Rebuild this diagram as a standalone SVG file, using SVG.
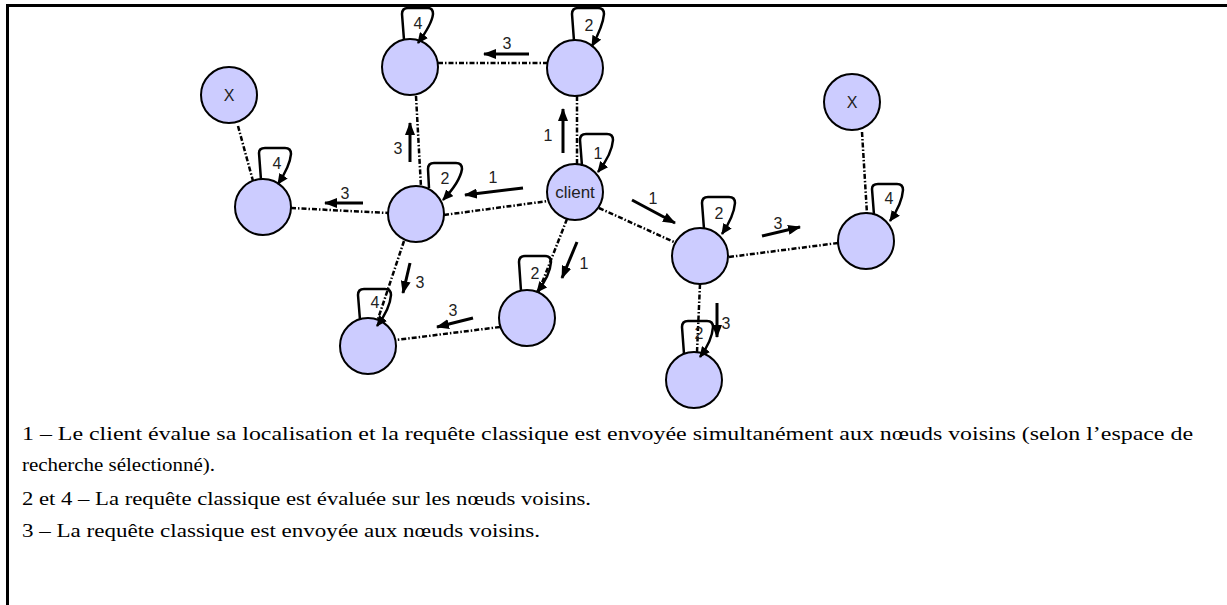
<svg xmlns="http://www.w3.org/2000/svg" width="1227" height="605" viewBox="0 0 1227 605">
<style>
.n{fill:#ccccff;stroke:#000;stroke-width:2}
.lp{fill:none;stroke:#000;stroke-width:2.5;marker-end:url(#ah)}
.c{fill:none;stroke:#000;stroke-width:2.5;stroke-dasharray:5 2 1.5 2}
.a{fill:none;stroke:#000;stroke-width:3;marker-end:url(#ab)}
.t{font-family:"Liberation Sans",Arial,sans-serif;font-size:16px;fill:#222;text-anchor:middle}
.b{font-family:"Liberation Serif","Times New Roman",serif;font-size:19.5px;fill:#000}
</style>
<defs>
<marker id="ah" markerUnits="userSpaceOnUse" markerWidth="12" markerHeight="10" refX="10" refY="5" orient="auto"><path d="M0,0 L11,5 L0,10 z" fill="#000"/></marker>
<marker id="ab" markerUnits="userSpaceOnUse" markerWidth="14" markerHeight="10" refX="12" refY="5" orient="auto"><path d="M0,0 L13,5 L0,10 z" fill="#000"/></marker>
</defs>
<g id="frame">
<line x1="6" y1="5.5" x2="1227" y2="5.5" stroke="#000" stroke-width="3"/>
<line x1="7.5" y1="4" x2="7.5" y2="605" stroke="#000" stroke-width="3"/>
</g>
<g id="connectors">
<line class="c" x1="438" y1="63" x2="548" y2="63"/>
<line class="c" x1="416" y1="96" x2="421" y2="187"/>
<line class="c" x1="577" y1="96" x2="577" y2="165"/>
<line class="c" x1="238" y1="126" x2="253" y2="181"/>
<line class="c" x1="291" y1="208" x2="388" y2="213"/>
<line class="c" x1="444" y1="215" x2="548" y2="201"/>
<line class="c" x1="599" y1="208" x2="674" y2="242"/>
<line class="c" x1="567" y1="219" x2="538" y2="293"/>
<line class="c" x1="404" y1="241" x2="377" y2="322"/>
<line class="c" x1="500" y1="327" x2="396" y2="340"/>
<line class="c" x1="729" y1="257" x2="838" y2="243"/>
<line class="c" x1="862" y1="132" x2="867" y2="214"/>
<line class="c" x1="700" y1="284" x2="697" y2="352"/>
<line class="a" x1="529" y1="54" x2="484" y2="54"/>
<line class="a" x1="563" y1="153" x2="563" y2="109"/>
<line class="a" x1="410" y1="162" x2="410" y2="123"/>
<line class="a" x1="523" y1="188" x2="465" y2="195"/>
<line class="a" x1="363" y1="203" x2="325" y2="203"/>
<line class="a" x1="632" y1="200" x2="675" y2="223"/>
<line class="a" x1="762" y1="236" x2="800" y2="227"/>
<line class="a" x1="577" y1="242" x2="562" y2="278"/>
<line class="a" x1="410" y1="263" x2="403" y2="293"/>
<line class="a" x1="473" y1="318" x2="437" y2="327"/>
<line class="a" x1="717" y1="303" x2="717" y2="337"/>
<text class="t" x="507" y="49">3</text>
<text class="t" x="548" y="141">1</text>
<text class="t" x="398" y="154">3</text>
<text class="t" x="493" y="183">1</text>
<text class="t" x="345" y="199">3</text>
<text class="t" x="653" y="204">1</text>
<text class="t" x="778" y="229">3</text>
<text class="t" x="584" y="269">1</text>
<text class="t" x="420" y="288">3</text>
<text class="t" x="453" y="316">3</text>
<text class="t" x="726" y="329">3</text>
</g>
<g id="node-x-left"><circle class="n" cx="229" cy="95" r="28"/><text class="t" x="229" y="101">X</text></g>
<g id="node-x-right"><circle class="n" cx="852" cy="102" r="28"/><text class="t" x="852" y="108">X</text></g>
<g id="node-top-left"><circle class="n" cx="410" cy="67" r="28"/><path class="lp" d="M404,40 L402,14 Q402,8 408,8 L428,8 Q433,8 433,14 Q432,24 418,43"/><text class="t" x="418" y="29">4</text></g>
<g id="node-top-right"><circle class="n" cx="575" cy="68" r="28"/><path class="lp" d="M574,41 L572,14 Q572,8 578,8 L598,8 Q604,8 604,14 Q603,26 592,46"/><text class="t" x="589" y="31">2</text></g>
<g id="node-client"><circle class="n" cx="575" cy="192" r="28"/><path class="lp" d="M582,166 L580,140 Q580,134 586,134 L607,134 Q613,134 613,140 Q612,154 598,172"/><text class="t" x="598" y="159">1</text><text class="t" x="575" y="198" style="font-size:17px">client</text></g>
<g id="node-center-left"><circle class="n" cx="416" cy="214" r="28"/><path class="lp" d="M429,188 L428,169 Q428,163 434,163 L456,163 Q462,163 462,169 Q460,182 443,200"/><text class="t" x="445" y="184">2</text></g>
<g id="node-left"><circle class="n" cx="263" cy="207" r="28"/><path class="lp" d="M261,180 L259,153 Q259,148 265,148 L285,148 Q291,148 291,154 Q290,166 278,184"/><text class="t" x="277" y="169">4</text></g>
<g id="node-right-mid"><circle class="n" cx="700" cy="256" r="28"/><path class="lp" d="M704,229 L702,203 Q702,197 708,197 L729,197 Q735,197 735,203 Q734,216 722,234"/><text class="t" x="719" y="219">2</text></g>
<g id="node-right"><circle class="n" cx="866" cy="241" r="28"/><path class="lp" d="M874,215 L872,189 Q872,184 878,184 L897,184 Q903,184 903,190 Q902,204 890,221"/><text class="t" x="889" y="204">4</text></g>
<g id="node-bottom-center"><circle class="n" cx="527" cy="318" r="28"/><path class="lp" d="M521,291 L519,262 Q519,256 525,256 L545,256 Q551,256 551,262 Q550,276 537,292"/><text class="t" x="535" y="279">2</text></g>
<g id="node-bottom-left"><circle class="n" cx="368" cy="346" r="28"/><path class="lp" d="M360,320 L358,295 Q358,289 364,289 L385,289 Q391,289 391,295 Q390,309 377,326"/><text class="t" x="375" y="308">4</text></g>
<g id="node-bottom"><circle class="n" cx="694" cy="380" r="28"/><path class="lp" d="M684,354 L682,327 Q682,321 688,321 L707,321 Q713,321 713,327 Q712,341 700,357"/><text class="t" x="699" y="339">2</text></g>
<g id="legend">
<text class="b" x="22" y="440" textLength="1171" lengthAdjust="spacingAndGlyphs">1 – Le client évalue sa localisation et la requête classique est envoyée simultanément aux nœuds voisins (selon l’espace de</text>
<text class="b" x="22" y="471" textLength="193" lengthAdjust="spacingAndGlyphs">recherche sélectionné).</text>
<text class="b" x="22" y="505" textLength="569" lengthAdjust="spacingAndGlyphs">2 et 4 – La requête classique est évaluée sur les nœuds voisins.</text>
<text class="b" x="22" y="537" textLength="518" lengthAdjust="spacingAndGlyphs">3 – La requête classique est envoyée aux nœuds voisins.</text>
</g>
</svg>
